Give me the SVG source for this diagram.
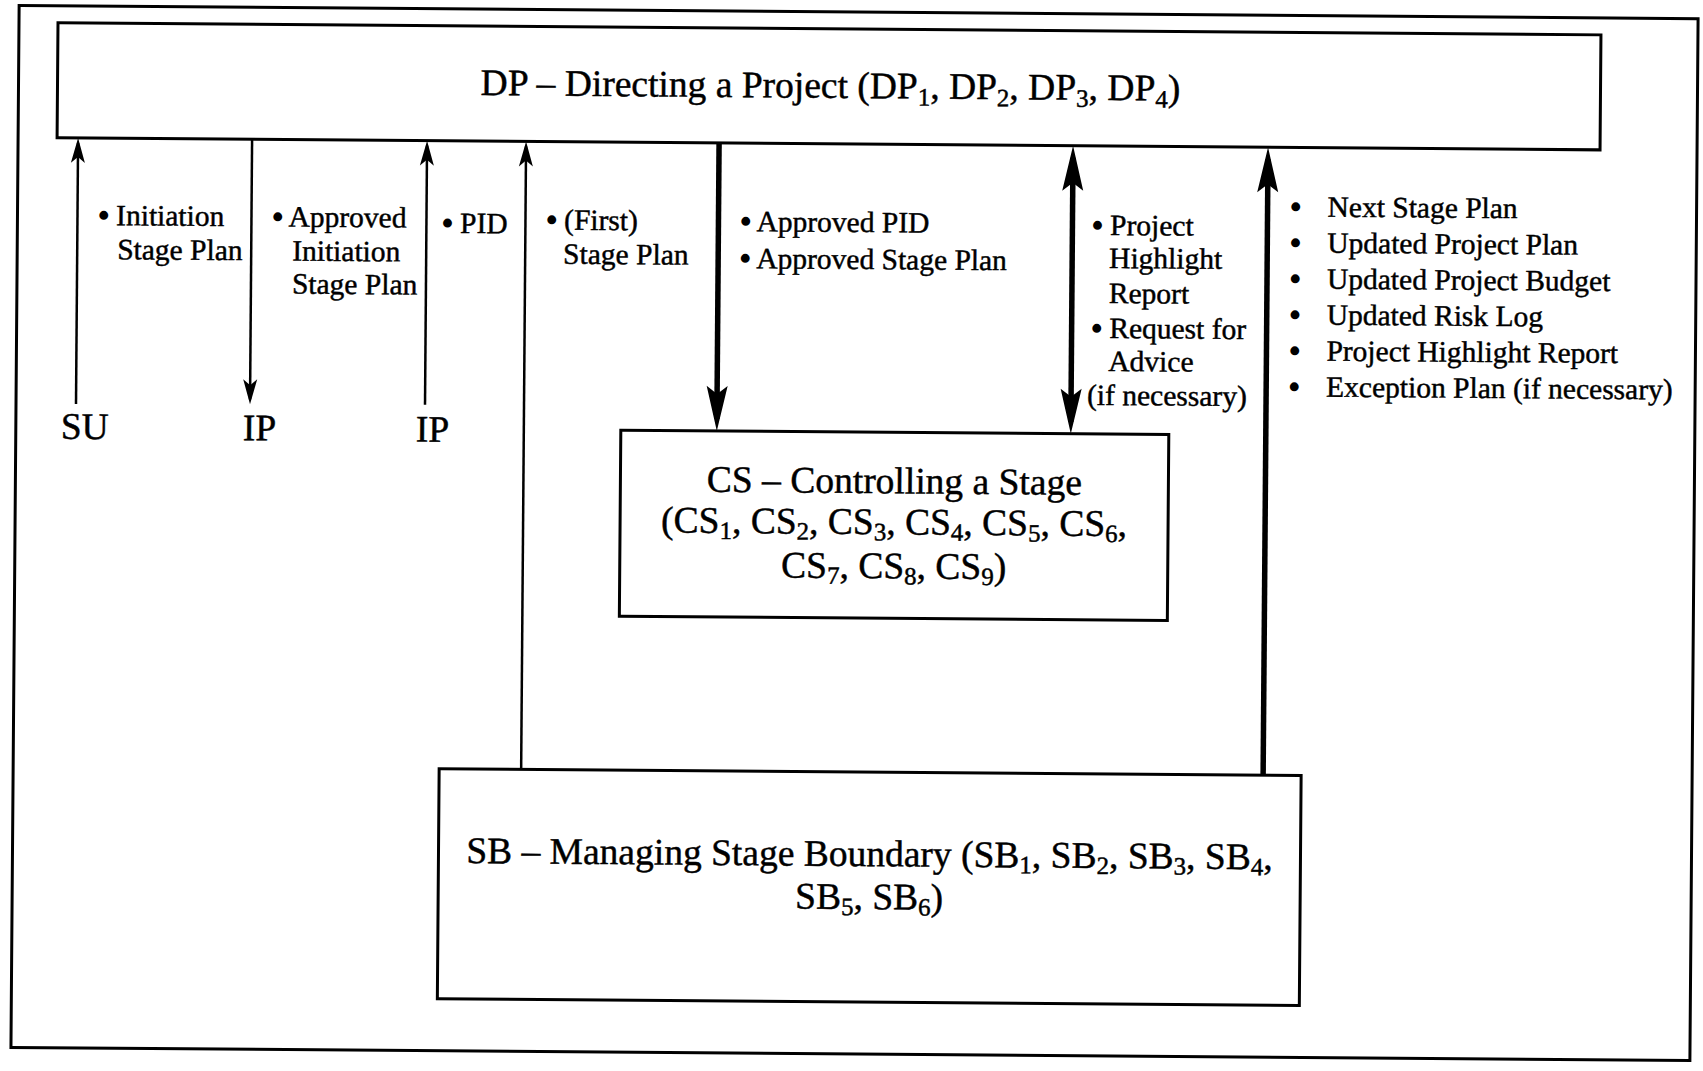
<svg xmlns="http://www.w3.org/2000/svg" width="1703" height="1071" viewBox="0 0 1703 1071">
<style>
  .frame{fill:none;stroke:#000;stroke-width:3}
  .box{fill:none;stroke:#000;stroke-width:3}
  .t{font-family:"Liberation Serif","Times New Roman",serif;fill:#000;stroke:#000;stroke-width:0.45}
  .lbl{font-size:29.5px}
  .big{font-size:37.5px}
  .sub{font-size:25px}
  .bul{stroke-width:1.8}
  .thin{stroke:#000;stroke-width:2.5;fill:none}
  .thick{stroke:#000;stroke-width:5.5;fill:none}
</style>
<defs>
  <marker id="ahThin" markerUnits="userSpaceOnUse" orient="auto-start-reverse" overflow="visible" markerWidth="10" markerHeight="10" refX="0" refY="0">
    <path d="M5,0 L-20,-7 L-14,0 L-20,7 Z" fill="#000"/>
  </marker>
  <marker id="ahThick" markerUnits="userSpaceOnUse" orient="auto-start-reverse" overflow="visible" markerWidth="10" markerHeight="10" refX="0" refY="0">
    <path d="M12,0 L-33,-10.5 L-25,0 L-33,10.5 Z" fill="#000"/>
  </marker>
</defs>
<rect x="0" y="0" width="1703" height="1071" fill="#fff"/>
<g transform="rotate(0.45 851 535)">
  <rect id="frame" class="frame" x="15" y="12" width="1679" height="1042"/>

  <g id="DP">
    <rect class="box" x="54" y="29" width="1543" height="115"/>
    <text class="t big" x="827" y="98" text-anchor="middle">DP – Directing a Project (DP<tspan class="sub" dy="7">1</tspan><tspan dy="-7">, DP</tspan><tspan class="sub" dy="7">2</tspan><tspan dy="-7">, DP</tspan><tspan class="sub" dy="7">3</tspan><tspan dy="-7">, DP</tspan><tspan class="sub" dy="7">4</tspan><tspan dy="-7">)</tspan></text>
  </g>

  <g id="CS">
    <rect class="box" x="620" y="432" width="548" height="186"/>
    <text class="t big" x="894" y="493" text-anchor="middle">CS – Controlling a Stage</text>
    <text class="t big" x="894" y="534" text-anchor="middle">(CS<tspan class="sub" dy="6">1</tspan><tspan dy="-6">, CS</tspan><tspan class="sub" dy="6">2</tspan><tspan dy="-6">, CS</tspan><tspan class="sub" dy="6">3</tspan><tspan dy="-6">, CS</tspan><tspan class="sub" dy="6">4</tspan><tspan dy="-6">, CS</tspan><tspan class="sub" dy="6">5</tspan><tspan dy="-6">, CS</tspan><tspan class="sub" dy="6">6</tspan><tspan dy="-6">,</tspan></text>
    <text class="t big" x="894" y="578" text-anchor="middle">CS<tspan class="sub" dy="6">7</tspan><tspan dy="-6">, CS</tspan><tspan class="sub" dy="6">8</tspan><tspan dy="-6">, CS</tspan><tspan class="sub" dy="6">9</tspan><tspan dy="-6">)</tspan></text>
  </g>

  <g id="SB">
    <rect class="box" x="441" y="772" width="862" height="230"/>
    <text class="t big" x="872" y="866" text-anchor="middle">SB – Managing Stage Boundary (SB<tspan class="sub" dy="6">1</tspan><tspan dy="-6">, SB</tspan><tspan class="sub" dy="6">2</tspan><tspan dy="-6">, SB</tspan><tspan class="sub" dy="6">3</tspan><tspan dy="-6">, SB</tspan><tspan class="sub" dy="6">4</tspan><tspan dy="-6">,</tspan></text>
    <text class="t big" x="872" y="909" text-anchor="middle">SB<tspan class="sub" dy="6">5</tspan><tspan dy="-6">, SB</tspan><tspan class="sub" dy="6">6</tspan><tspan dy="-6">)</tspan></text>
  </g>

  <g id="SU"><text class="t big" x="60" y="445">SU</text></g>
  <g id="IP1"><text class="t big" x="242" y="445">IP</text></g>
  <g id="IP2"><text class="t big" x="415" y="445">IP</text></g>

  <g id="connectors">
    <path class="thin" d="M75,410 L75,149" marker-end="url(#ahThin)"/>
    <path class="thin" d="M249,144 L249,404" marker-end="url(#ahThin)"/>
    <path class="thin" d="M424,408 L424,149" marker-end="url(#ahThin)"/>
    <path class="thin" d="M523,772 L523,149" marker-end="url(#ahThin)"/>
    <path class="thick" d="M716,144 L716,420" marker-end="url(#ahThick)"/>
    <path class="thick" d="M1070,156 L1070,420" marker-start="url(#ahThick)" marker-end="url(#ahThick)"/>
    <path class="thick" d="M1265,772 L1265,156" marker-end="url(#ahThick)"/>
  </g>

  <g id="labels">
    <text class="t lbl" x="96" y="231"><tspan class="bul">•</tspan> Initiation</text>
    <text class="t lbl" x="115" y="265">Stage Plan</text>

    <text class="t lbl" x="270" y="231"><tspan class="bul">•</tspan> Approved</text>
    <text class="t lbl" x="290" y="265">Initiation</text>
    <text class="t lbl" x="290" y="298">Stage Plan</text>

    <text class="t lbl" x="440" y="236"><tspan class="bul">•</tspan> PID</text>

    <text class="t lbl" x="544" y="232"><tspan class="bul">•</tspan> (First)</text>
    <text class="t lbl" x="561" y="266">Stage Plan</text>

    <text class="t lbl" x="738" y="232"><tspan class="bul">•</tspan> Approved PID</text>
    <text class="t lbl" x="738" y="269"><tspan class="bul">•</tspan> Approved Stage Plan</text>

    <text class="t lbl" x="1090" y="233"><tspan class="bul">•</tspan> Project</text>
    <text class="t lbl" x="1107" y="266">Highlight</text>
    <text class="t lbl" x="1107" y="301">Report</text>
    <text class="t lbl" x="1090" y="336"><tspan class="bul">•</tspan> Request for</text>
    <text class="t lbl" x="1107" y="369">Advice</text>
    <text class="t lbl" x="1086" y="403">(if necessary)</text>

    <text class="t lbl" y="213"><tspan class="bul" x="1288">•</tspan><tspan x="1325">Next Stage Plan</tspan></text>
    <text class="t lbl" y="249"><tspan class="bul" x="1288">•</tspan><tspan x="1325">Updated Project Plan</tspan></text>
    <text class="t lbl" y="285"><tspan class="bul" x="1288">•</tspan><tspan x="1325">Updated Project Budget</tspan></text>
    <text class="t lbl" y="321"><tspan class="bul" x="1288">•</tspan><tspan x="1325">Updated Risk Log</tspan></text>
    <text class="t lbl" y="357"><tspan class="bul" x="1288">•</tspan><tspan x="1325">Project Highlight Report</tspan></text>
    <text class="t lbl" y="393"><tspan class="bul" x="1288">•</tspan><tspan x="1325">Exception Plan (if necessary)</tspan></text>
  </g>
</g>
</svg>
